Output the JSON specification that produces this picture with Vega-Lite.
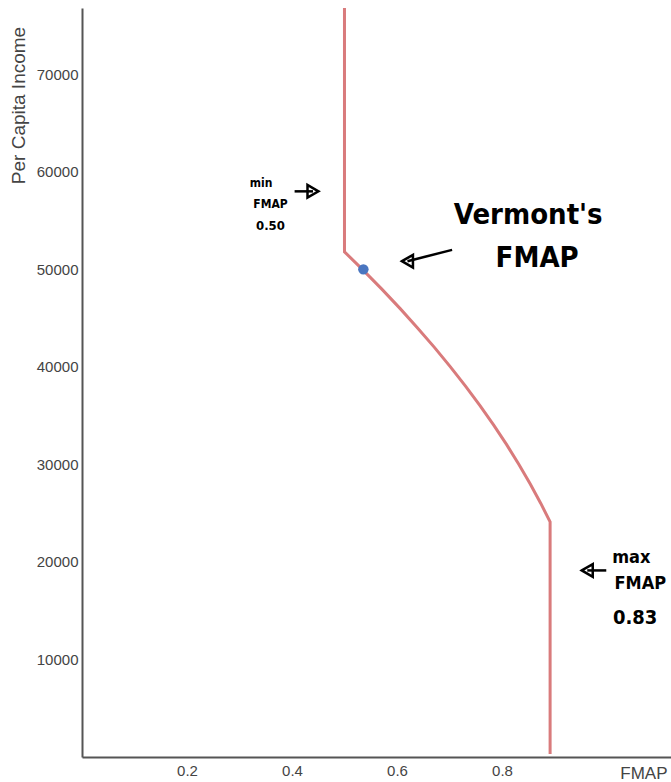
{
  "$schema": "https://vega.github.io/schema/vega-lite/v6.json",
  "width": 589,
  "height": 749,
  "autosize": {"type": "none"},
  "padding": {"left": 82, "top": 8, "right": 0, "bottom": 25},
  "background": "white",
  "config": {
    "view": {"stroke": null},
    "font": "Liberation Sans",
    "axis": {"grid": false, "ticks": false, "domainColor": "#555555", "domainWidth": 2, "labelColor": "#444444", "labelFontSize": 15, "titleColor": "#444444", "titleFontSize": 18, "titleFontWeight": "normal"}
  },
  "datasets": {
    "curve": [
      {"fmap": 0.5, "pci": 76800},
      {"fmap": 0.5, "pci": 51800},
      {"fmap": 0.5341, "pci": 50000},
      {"fmap": 0.5707, "pci": 48000},
      {"fmap": 0.6057, "pci": 46000},
      {"fmap": 0.6392, "pci": 44000},
      {"fmap": 0.6713, "pci": 42000},
      {"fmap": 0.7018, "pci": 40000},
      {"fmap": 0.7309, "pci": 38000},
      {"fmap": 0.7585, "pci": 36000},
      {"fmap": 0.7846, "pci": 34000},
      {"fmap": 0.8092, "pci": 32000},
      {"fmap": 0.8323, "pci": 30000},
      {"fmap": 0.8539, "pci": 28000},
      {"fmap": 0.874, "pci": 26000},
      {"fmap": 0.8917, "pci": 24110},
      {"fmap": 0.8917, "pci": 300}
    ],
    "vermont": [{"fmap": 0.536, "pci": 50000}],
    "labels": [
      {"fmap": 0.341, "pci": 58820, "text": "min", "size": 12},
      {"fmap": 0.359, "pci": 56670, "text": "FMAP", "size": 12},
      {"fmap": 0.359, "pci": 54420, "text": "0.50", "size": 13},
      {"fmap": 1.0465, "pci": 20360, "text": "max", "size": 18},
      {"fmap": 1.0634, "pci": 17700, "text": "FMAP", "size": 18},
      {"fmap": 1.0538, "pci": 14220, "text": "0.83", "size": 20}
    ],
    "big": [
      {"fmap": 0.85, "pci": 55550, "text": "Vermont's"},
      {"fmap": 0.867, "pci": 51150, "text": "FMAP"}
    ],
    "arrows": [
      {"x1": 0.705, "x2": 0.62, "y1": 52000, "y2": 50840, "dir": "left"},
      {"x1": 0.405, "x2": 0.44, "y1": 58000, "y2": 58000, "dir": "right"},
      {"x1": 0.9987, "x2": 0.9625, "y1": 19130, "y2": 19130, "dir": "left"}
    ]
  },
  "layer": [
    {
      "data": {"name": "curve"},
      "mark": {"type": "line", "color": "#d97b7c", "strokeWidth": 3},
      "encoding": {
        "x": {"field": "fmap", "type": "quantitative", "scale": {"domain": [0, 1.122], "nice": false}, "axis": {"values": [0.2, 0.4, 0.6, 0.8], "format": ".1f", "title": "FMAP", "titleFontSize": 17, "titleAlign": "right", "titleBaseline": "top", "titleX": 585, "titleY": 8, "labelPadding": 6}},
        "y": {"field": "pci", "type": "quantitative", "scale": {"domain": [0, 76800], "nice": false}, "axis": {"values": [10000, 20000, 30000, 40000, 50000, 60000, 70000], "format": "d", "title": "Per Capita Income", "titleFontSize": 19, "titleAngle": -90, "titleAlign": "center", "titleBaseline": "middle", "titleX": -64, "titleY": 97, "labelPadding": 4}},
        "order": {"field": "pci", "sort": "descending"}
      }
    },
    {
      "data": {"name": "vermont"},
      "mark": {"type": "circle", "color": "#4a76c0", "opacity": 1, "size": 110},
      "encoding": {
        "x": {"field": "fmap", "type": "quantitative"},
        "y": {"field": "pci", "type": "quantitative"}
      }
    },
    {
      "data": {"name": "arrows"},
      "mark": {"type": "rule", "color": "black", "strokeWidth": 2.5},
      "encoding": {
        "x": {"field": "x1", "type": "quantitative"},
        "x2": {"field": "x2"},
        "y": {"field": "y1", "type": "quantitative"},
        "y2": {"field": "y2"}
      }
    },
    {
      "data": {"name": "arrows"},
      "mark": {"type": "point", "filled": false, "color": "black", "strokeWidth": 2.5, "size": 160, "opacity": 1},
      "encoding": {
        "x": {"field": "x2", "type": "quantitative"},
        "y": {"field": "y2", "type": "quantitative"},
        "shape": {"field": "dir", "type": "nominal", "scale": {"domain": ["left", "right"], "range": ["triangle-left", "triangle-right"]}, "legend": null}
      }
    },
    {
      "data": {"name": "labels"},
      "mark": {"type": "text", "color": "black", "fontWeight": "bold", "font": "DejaVu Sans Condensed, DejaVu Sans"},
      "encoding": {
        "x": {"field": "fmap", "type": "quantitative"},
        "y": {"field": "pci", "type": "quantitative"},
        "text": {"field": "text"},
        "size": {"field": "size", "type": "quantitative", "scale": null}
      }
    },
    {
      "data": {"name": "big"},
      "mark": {"type": "text", "color": "black", "fontWeight": "bold", "fontSize": 29, "font": "DejaVu Sans Condensed, DejaVu Sans"},
      "encoding": {
        "x": {"field": "fmap", "type": "quantitative"},
        "y": {"field": "pci", "type": "quantitative"},
        "text": {"field": "text"}
      }
    }
  ]
}
